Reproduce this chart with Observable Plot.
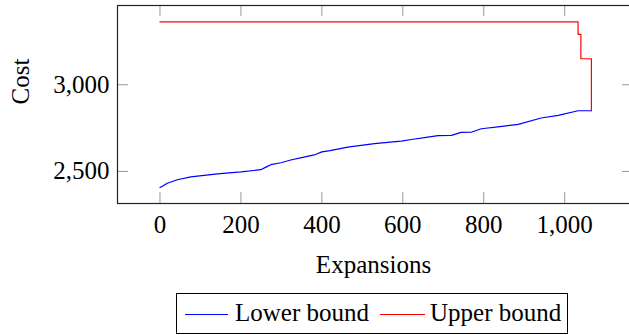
<!DOCTYPE html>
<html><head><meta charset="utf-8">
<script src="https://cdn.jsdelivr.net/npm/d3@7"></script>
<script src="https://cdn.jsdelivr.net/npm/@observablehq/plot@0.6"></script>
<style>
html,body{margin:0;padding:0;background:#fff;overflow:hidden;}
#wrap{position:relative;width:629px;height:335px;font-family:"Liberation Serif",serif;}
#legend{position:absolute;left:176px;top:293px;width:390px;height:39px;border:1px solid #000;box-sizing:content-box;background:#fff;}
#legend .sw{position:absolute;top:20px;height:0;border-top:1.3px solid;}
#legend .lt{position:absolute;top:6px;font-size:25px;line-height:25px;white-space:nowrap;color:#000;}
</style>
</head><body>
<div id="wrap"><div id="chart"></div>
<div id="legend">
  <div class="sw" style="left:8px;width:43px;border-color:#0000ff"></div>
  <div class="lt" id="l1" style="left:58px"></div>
  <div class="sw" style="left:203px;width:45px;border-color:#ff0000"></div>
  <div class="lt" id="l2" style="left:253px"></div>
</div>
</div>
<script>
const seriesNames = ["Lower bound", "Upper bound"];
const lowerX = [0, 8, 18, 43, 76, 142, 200, 249, 262, 274, 299, 323, 350, 381, 400, 420, 464, 530, 596, 621, 662, 687, 720, 744, 769, 794, 840, 885, 942, 984, 1033, 1066];
const lowerY = [2407, 2418, 2432, 2452, 2469, 2486, 2497, 2510, 2525, 2539, 2550, 2566, 2580, 2595, 2613, 2620, 2640, 2660, 2675, 2684, 2698, 2707, 2708, 2725, 2726, 2746, 2758, 2771, 2808, 2823, 2850, 2850];
const upperX = [0, 1033, 1040, 1066];
const upperY = [3362, 3290, 3150, 2850];
const xTicks = [0, 200, 400, 600, 800, 1000];
const yTicks = [2500, 3000];
const xLabel = "Expansions";
const yLabel = "Cost";

const lower = lowerX.map((x, i) => ({x, y: lowerY[i]}));
const upper = upperX.map((x, i) => ({x, y: upperY[i]}));

const W = 629, H = 290, mL = 117, mR = -4, mT = 5, mB = 87;
const innerH = H - mT - mB, innerW = W - mL - mR, tl = 11;
const fmt = d3.format(",");
const tickStroke = "#9a9a9a";

const chart = Plot.plot({
  width: W, height: H,
  marginLeft: mL, marginRight: mR, marginTop: mT, marginBottom: mB,
  style: {fontFamily: "'Liberation Serif', serif", fontSize: "25px", background: "white", color: "#000"},
  x: {domain: [-105, 1170], label: null},
  y: {domain: [2315, 3457], label: null},
  marks: [
    Plot.tickX(xTicks, {x: d => d, insetTop: innerH - tl, stroke: tickStroke, strokeWidth: 1}),
    Plot.tickX(xTicks, {x: d => d, insetBottom: innerH - tl, stroke: tickStroke, strokeWidth: 1}),
    Plot.tickY(yTicks, {y: d => d, insetRight: innerW - tl, stroke: tickStroke, strokeWidth: 1}),
    Plot.tickY(yTicks, {y: d => d, insetLeft: innerW - tl, stroke: tickStroke, strokeWidth: 1}),
    Plot.line(lower, {x: "x", y: "y", stroke: "#0000ff", strokeWidth: 1.2}),
    Plot.line(upper, {x: "x", y: "y", curve: "step-after", stroke: "#ff0000", strokeWidth: 1.2}),
    Plot.frame({stroke: "#222", strokeWidth: 1.2}),
    Plot.axisX(xTicks, {tickSize: 0, tickPadding: 12, tickFormat: fmt, label: null, fontSize: 25}),
    Plot.axisY(yTicks, {tickSize: 0, tickPadding: 8, tickFormat: fmt, label: null, fontSize: 25}),
    Plot.text([yLabel], {text: d => d, frameAnchor: "left", dx: -97, rotate: -90, fontSize: 25, lineAnchor: "middle"}),
    Plot.text([xLabel], {text: d => d, frameAnchor: "bottom", dx: -2, dy: 61, fontSize: 25, lineAnchor: "middle"})
  ]
});
document.getElementById("chart").appendChild(chart);
document.getElementById("l1").textContent = seriesNames[0];
document.getElementById("l2").textContent = seriesNames[1];
</script>
</body></html>
